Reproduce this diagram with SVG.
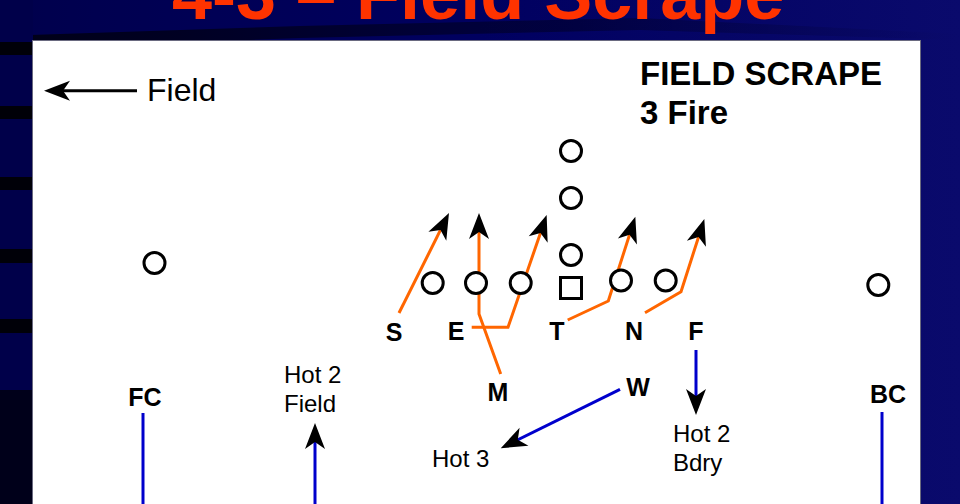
<svg xmlns="http://www.w3.org/2000/svg" width="960" height="504" viewBox="0 0 960 504">
  <defs>
    <linearGradient id="bg" x1="0" y1="0" x2="1" y2="0">
      <stop offset="0" stop-color="#00004C"/>
      <stop offset="0.5" stop-color="#000060"/>
      <stop offset="1" stop-color="#0A0A6C"/>
    </linearGradient>
    <linearGradient id="sweep" x1="0" y1="0" x2="1" y2="0">
      <stop offset="0" stop-color="#000010" stop-opacity="0.9"/>
      <stop offset="0.6" stop-color="#000020" stop-opacity="0.5"/>
      <stop offset="1" stop-color="#000030" stop-opacity="0"/>
    </linearGradient>
    <marker id="ah" markerUnits="userSpaceOnUse" viewBox="-21 -11 28 22" markerWidth="28" markerHeight="22" refX="0" refY="0" orient="auto">
      <path d="M6,0 L-20,-10 L-13,0 L-20,10 Z" fill="#000"/>
    </marker>
    <style>
      .title { font-family: "Liberation Sans", Arial, sans-serif; font-weight: bold; font-size: 72px; fill: #FF3300; }
      .lbl { font-family: "Liberation Sans", Arial, sans-serif; font-weight: bold; font-size: 25px; fill: #000; text-anchor: middle; }
      .note { font-family: "Liberation Sans", Arial, sans-serif; font-size: 24px; fill: #000; }
      .head { font-family: "Liberation Sans", Arial, sans-serif; font-weight: bold; font-size: 33px; fill: #000; }
      .big { font-family: "Liberation Sans", Arial, sans-serif; font-size: 32px; fill: #000; }
      .plr { fill: #fff; stroke: #000; stroke-width: 3; }
      .or { fill: none; stroke: #FF6600; stroke-width: 3; stroke-linejoin: miter; }
      .bl { fill: none; stroke: #0000CC; stroke-width: 3; }
      .bk { fill: none; stroke: #000; stroke-width: 3; }
    </style>
  </defs>

  <!-- background -->
  <rect x="0" y="0" width="960" height="504" fill="url(#bg)"/>
  <polygon points="0,50 0,36 300,26 640,18 960,34 960,40 640,30 300,38" fill="url(#sweep)"/>
  <rect x="0" y="0" width="33" height="504" fill="#00004A"/>
  <g fill="#000008">
    <rect x="0" y="42" width="33" height="13"/>
    <rect x="0" y="106" width="33" height="13"/>
    <rect x="0" y="177" width="33" height="13"/>
    <rect x="0" y="249" width="33" height="14"/>
    <rect x="0" y="319" width="33" height="14"/>
    <rect x="0" y="390" width="33" height="114" fill="#00001A"/>
  </g>

  <text class="title" x="172" y="19">4-3 – Field Scrape</text>

  <!-- white panel -->
  <rect x="32.5" y="40.5" width="888" height="470" fill="#fff" stroke="#6A6A80" stroke-width="1"/>

  <!-- headings -->
  <text class="head" x="640" y="85">FIELD SCRAPE</text>
  <text class="head" x="640" y="124">3 Fire</text>
  <text class="big" x="147" y="101">Field</text>

  <!-- connectors -->
  <g id="connectors">
    <line class="bk" x1="137" y1="90.7" x2="50" y2="90.7" marker-end="url(#ah)"/>
    <polyline class="or" points="399,313 446.3,218.4" marker-end="url(#ah)"/>
    <polyline class="or" points="500.7,374 479,314 479,219" marker-end="url(#ah)"/>
    <polyline class="or" points="471.7,327.3 508,327.3 544.7,220.7" marker-end="url(#ah)"/>
    <polyline class="or" points="567.7,320 608.3,301 633.5,222.4" marker-end="url(#ah)"/>
    <polyline class="or" points="645,312.7 681,291.7 702.5,224.7" marker-end="url(#ah)"/>
    <line class="bl" x1="696" y1="350" x2="696" y2="409" marker-end="url(#ah)"/>
    <line class="bl" x1="620" y1="389.3" x2="506.1" y2="445.6" marker-end="url(#ah)"/>
    <line class="bl" x1="315" y1="506" x2="315" y2="429" marker-end="url(#ah)"/>
    <line class="bl" x1="143" y1="413" x2="143" y2="506"/>
    <line class="bl" x1="882" y1="412" x2="882" y2="506"/>
  </g>

  <!-- offense -->
  <g id="o-qb1"><circle class="plr" cx="571" cy="151" r="10.5"/></g>
  <g id="o-qb2"><circle class="plr" cx="571" cy="198" r="10.5"/></g>
  <g id="o-qb3"><circle class="plr" cx="571" cy="255" r="10.5"/></g>
  <g id="o-lt"><circle class="plr" cx="432.7" cy="283" r="10.5"/></g>
  <g id="o-lg"><circle class="plr" cx="476" cy="283" r="10.5"/></g>
  <g id="o-lg2"><circle class="plr" cx="520.7" cy="283" r="10.5"/></g>
  <g id="o-c"><rect class="plr" x="560.5" y="277.5" width="21" height="21"/></g>
  <g id="o-rg"><circle class="plr" cx="621" cy="280.5" r="10.5"/></g>
  <g id="o-rt"><circle class="plr" cx="665.7" cy="280.5" r="10.5"/></g>
  <g id="o-wl"><circle class="plr" cx="154.5" cy="263" r="10.5"/></g>
  <g id="o-wr"><circle class="plr" cx="878.3" cy="285" r="10.5"/></g>

  <!-- defense -->
  <g id="d-s"><text class="lbl" x="394" y="341">S</text></g>
  <g id="d-e"><text class="lbl" x="456" y="340">E</text></g>
  <g id="d-t"><text class="lbl" x="557" y="340">T</text></g>
  <g id="d-n"><text class="lbl" x="634" y="340">N</text></g>
  <g id="d-f"><text class="lbl" x="696" y="340">F</text></g>
  <g id="d-m"><text class="lbl" x="498" y="401">M</text></g>
  <g id="d-w"><text class="lbl" x="638" y="396">W</text></g>
  <g id="d-fc"><text class="lbl" x="145" y="406">FC</text></g>
  <g id="d-bc"><text class="lbl" x="888" y="403">BC</text></g>

  <!-- notes -->
  <g id="n-hot2f"><text class="note" x="284" y="383">Hot 2</text><text class="note" x="284" y="412">Field</text></g>
  <g id="n-hot3"><text class="note" x="432" y="467">Hot 3</text></g>
  <g id="n-hot2b"><text class="note" x="673" y="442">Hot 2</text><text class="note" x="673" y="471">Bdry</text></g>
</svg>
